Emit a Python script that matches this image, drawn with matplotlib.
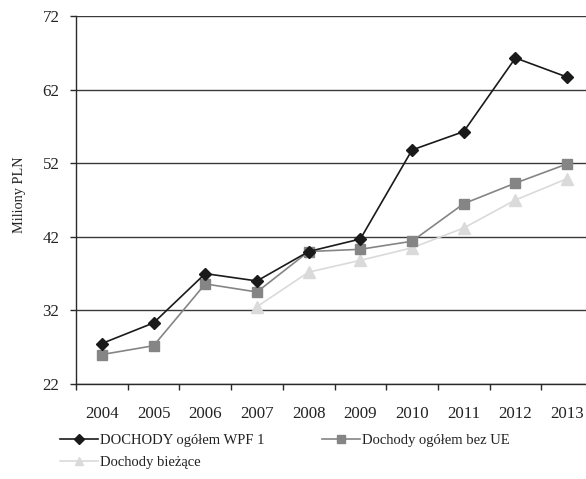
import numpy as np
import matplotlib
matplotlib.use("Agg")
import matplotlib.pyplot as plt
from matplotlib.ticker import FixedLocator

# Dane (mln PLN)
lata = [2004, 2005, 2006, 2007, 2008, 2009, 2010, 2011, 2012, 2013]
dochody_wpf = [27.5, 30.3, 37.0, 36.0, 40.0, 41.7, 53.8, 56.3, 66.3, 63.7]
dochody_bez_ue = [26.0, 27.2, 35.6, 34.5, 40.0, 40.3, 41.4, 46.5, 49.3, 51.9]
dochody_biezace = [None, None, None, 32.5, 37.2, 38.8, 40.5, 43.2, 47.0, 49.9]
y_ticks = [22, 32, 42, 52, 62, 72]

plt.rcParams['font.family'] = ['Liberation Serif', 'DejaVu Serif']

fig = plt.figure(figsize=(5.86, 4.79), dpi=100)
ax = fig.add_axes([76 / 586, 95 / 479, 517 / 586, 368 / 479])

x = np.arange(len(lata))
biez = np.array([np.nan if v is None else v for v in dochody_biezace])

l1, = ax.plot(x, dochody_wpf, color='#1a1a1a', lw=1.2, marker='D', ms=6.5,
              label='DOCHODY ogółem WPF 1', zorder=4)
l2, = ax.plot(x, dochody_bez_ue, color='#858585', lw=1.2, marker='s', ms=6.5,
              label='Dochody ogółem bez UE', zorder=3)
l3, = ax.plot(x, biez, color='#dadada', lw=1.2, marker='^', ms=8,
              label='Dochody bieżące', zorder=2)

ax.set_xlim(-0.5, len(lata) - 0.5)
ax.set_ylim(y_ticks[0], y_ticks[-1])
ax.set_yticks(y_ticks)
ax.set_xticks(x)
ax.set_xticklabels([str(r) for r in lata])
ax.xaxis.set_minor_locator(FixedLocator(np.arange(-0.5, len(lata), 1.0)))

ax.yaxis.grid(True, color='#3a3a3a', lw=1.0)
ax.set_axisbelow(True)
for s in ('top', 'right'):
    ax.spines[s].set_visible(False)
for s in ('left', 'bottom'):
    ax.spines[s].set_color('#2a2a2a')
    ax.spines[s].set_linewidth(1.0)

ax.tick_params(axis='y', direction='out', length=4, width=1, color='#2a2a2a',
               labelsize=12.2, pad=8, labelcolor='#222222')
ax.tick_params(axis='x', which='major', length=0, labelsize=12.2, pad=16,
               labelcolor='#222222')
ax.tick_params(axis='x', which='minor', direction='out', length=4, width=1,
               color='#2a2a2a')

fig.text(20 / 586, 1 - 195 / 479, 'Miliony PLN', rotation=90, fontsize=10.3,
         ha='center', va='center', color='#222222')

# legenda: dwie kolumny, trzecia pozycja w drugim wierszu
fig.legend([l1, l3, l2], [l1.get_label(), l3.get_label(), l2.get_label()],
           ncol=2, loc='upper left', bbox_to_anchor=(50 / 586, 1 - 424 / 479),
           frameon=False, fontsize=10.5, handlelength=2.6, handletextpad=0.1,
           columnspacing=4.0, labelspacing=0.6, borderpad=0.2,
           markerscale=0.8, labelcolor='#222222')

fig.savefig('out.png', dpi=100)
